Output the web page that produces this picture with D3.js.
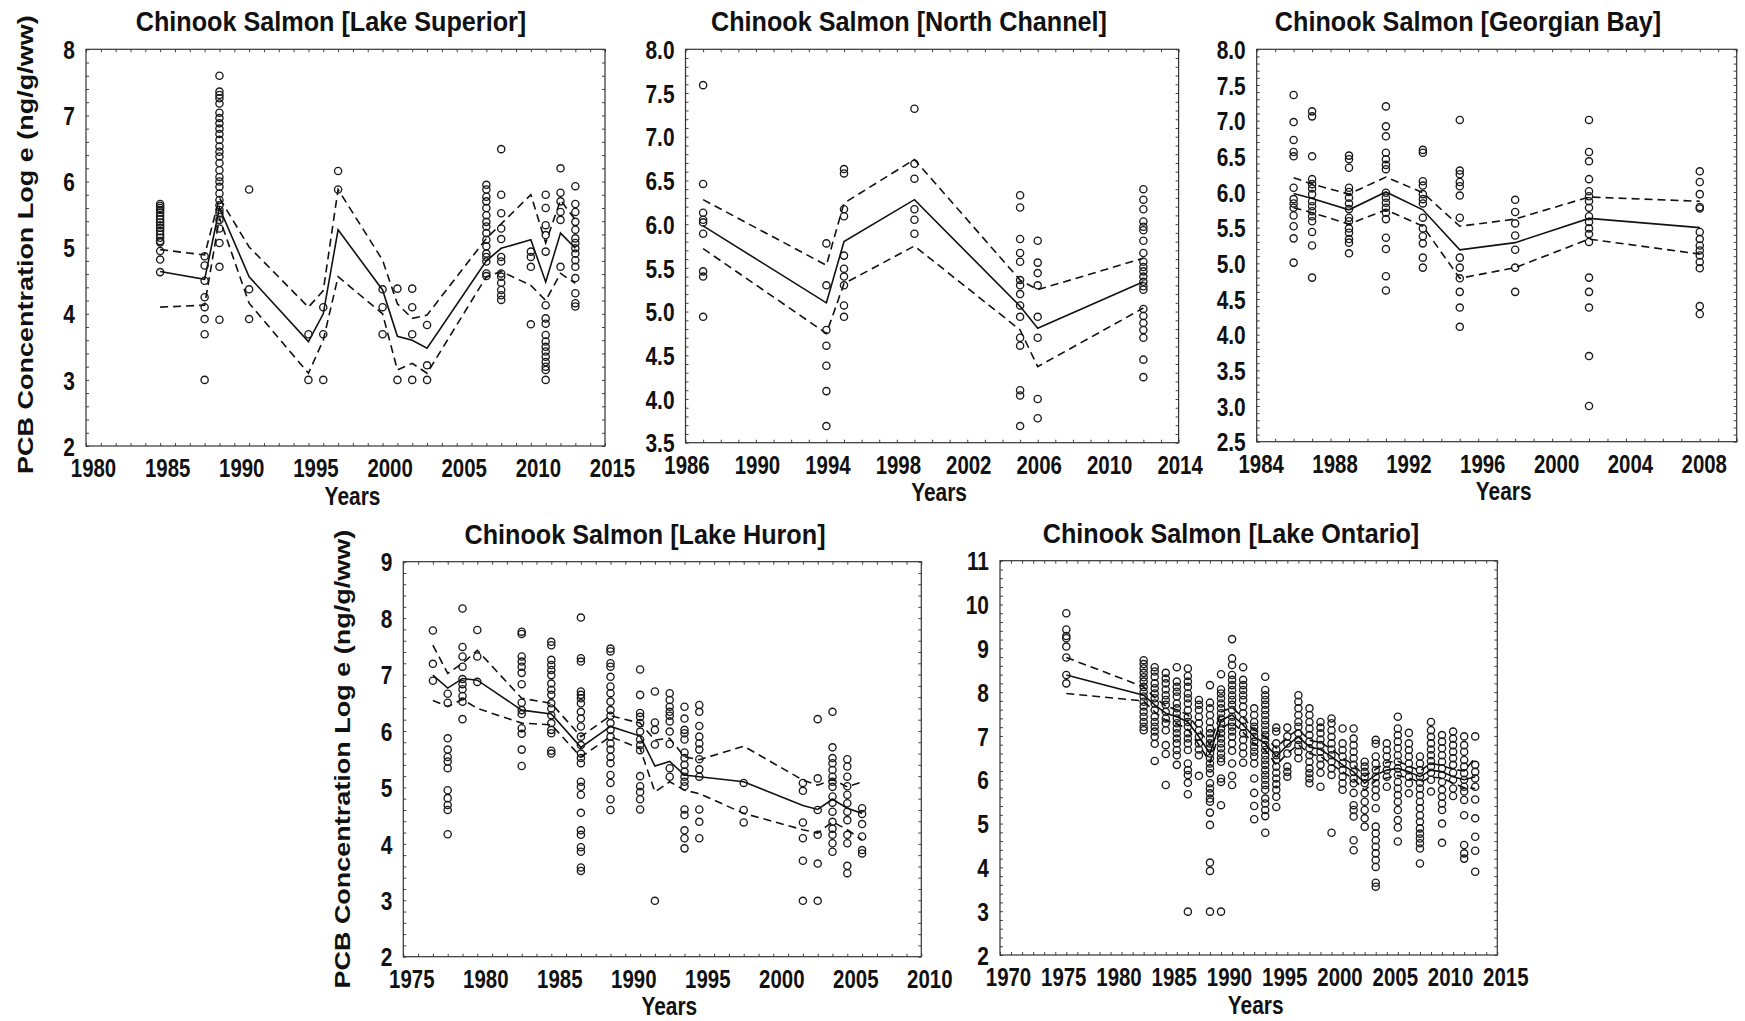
<!DOCTYPE html>
<html>
<head>
<meta charset="utf-8">
<script src="https://cdn.jsdelivr.net/npm/d3@7"></script>
<style>
  body { margin: 0; background: #fff; }
  svg { display: block; }
</style>
</head>
<body>
<div id="chart"></div>
<script>
// ---- Lake Superior ----
const superiorYears = [1985, 1988, 1989, 1991, 1995, 1996, 1997, 2000, 2001, 2002, 2003, 2007, 2008, 2010, 2011, 2012, 2013];
const superiorPCB = [
    [5.66, 5.63, 5.6, 5.57, 5.53, 5.48, 5.43, 5.38, 5.34, 5.3, 5.25, 5.2, 5.15, 5.1, 5.08, 4.95, 4.82, 4.63],
    [4.87, 4.73, 4.5, 4.25, 4.1, 3.92, 3.69, 3.0],
    [7.6, 7.36, 7.31, 7.26, 7.18, 7.04, 6.96, 6.88, 6.8, 6.72, 6.63, 6.53, 6.45, 6.38, 6.28, 6.17, 6.07, 6.0, 5.92, 5.82, 5.72, 5.64, 5.57, 5.52, 5.42, 5.29, 5.07, 4.71, 3.91],
    [5.88, 4.37, 3.92],
    [3.69, 3.0],
    [4.1, 3.69, 3.0],
    [6.16, 5.88],
    [4.37, 4.1, 3.69],
    [4.38, 3.0],
    [4.38, 4.1, 3.69, 3.0],
    [3.83, 3.22, 3.0],
    [5.95, 5.88, 5.77, 5.7, 5.6, 5.49, 5.39, 5.32, 5.22, 5.12, 5.02, 4.91, 4.86, 4.79, 4.61, 4.57],
    [6.49, 5.8, 5.52, 5.29, 5.13, 4.86, 4.79, 4.61, 4.56, 4.47, 4.36, 4.28, 4.21],
    [4.94, 4.86, 4.71, 3.84],
    [5.8, 5.6, 5.34, 5.19, 4.94, 4.13, 3.93, 3.85, 3.68, 3.58, 3.5, 3.43, 3.35, 3.27, 3.2, 3.15, 3.0],
    [6.2, 5.83, 5.7, 5.54, 5.42, 4.71],
    [5.93, 5.66, 5.54, 5.39, 5.27, 5.14, 5.07, 4.99, 4.91, 4.81, 4.71, 4.54, 4.31, 4.16, 4.11]
];
const superiorMean  = [4.64, 4.52, 5.6, 4.56, 3.58, 4.0, 5.27, 4.36, 3.66, 3.6, 3.48, 4.8, 4.99, 5.12, 4.48, 5.22, 4.99];
const superiorUpper = [4.97, 4.89, 5.75, 5.01, 4.1, 4.35, 5.88, 4.81, 4.15, 3.93, 3.98, 5.14, 5.36, 5.8, 5.07, 5.72, 5.42];
const superiorLower = [4.1, 4.13, 5.45, 4.16, 3.1, 3.6, 4.56, 4.0, 3.15, 3.25, 3.1, 4.56, 4.64, 4.43, 4.2, 4.61, 4.46];
const superiorXTicks = [1980, 1985, 1990, 1995, 2000, 2005, 2010, 2015];
const superiorYTicks = [2, 3, 4, 5, 6, 7, 8];

// ---- North Channel ----
const northYears = [1987, 1994, 1995, 1999, 2005, 2006, 2012];
const northPCB = [
    [7.59, 6.46, 6.13, 6.05, 6.02, 5.89, 5.46, 5.40, 4.94],
    [5.78, 5.30, 4.79, 4.61, 4.38, 4.09, 3.69],
    [6.63, 6.58, 6.17, 6.09, 5.64, 5.49, 5.40, 5.30, 5.07, 4.94],
    [7.32, 6.69, 6.52, 6.17, 6.05, 5.89],
    [6.33, 6.19, 5.83, 5.67, 5.57, 5.36, 5.30, 5.2, 5.07, 4.94, 4.70, 4.61, 4.1, 4.04, 3.69],
    [5.81, 5.56, 5.44, 5.30, 4.94, 4.70, 4.0, 3.78],
    [6.40, 6.28, 6.17, 6.03, 5.97, 5.93, 5.81, 5.67, 5.57, 5.51, 5.46, 5.40, 5.34, 5.29, 5.25, 5.03, 4.95, 4.87, 4.79, 4.70, 4.45, 4.25]
];
const northMean  = [5.98, 5.10, 5.80, 6.28, 5.06, 4.81, 5.34];
const northUpper = [6.28, 5.53, 6.24, 6.74, 5.36, 5.25, 5.61];
const northLower = [5.72, 4.75, 5.32, 5.75, 4.79, 4.37, 5.04];
const northXTicks = [1986, 1990, 1994, 1998, 2002, 2006, 2010, 2014];
const northYTicks = [3.5, 4.0, 4.5, 5.0, 5.5, 6.0, 6.5, 7.0, 7.5, 8.0];

// ---- Georgian Bay ----
const georgianYears = [1986, 1987, 1989, 1991, 1993, 1995, 1998, 2002, 2008];
const georgianPCB = [
    [7.36, 6.98, 6.73, 6.56, 6.50, 6.06, 5.90, 5.84, 5.78, 5.67, 5.52, 5.35, 5.01],
    [7.13, 7.06, 6.50, 6.18, 6.11, 6.05, 5.97, 5.87, 5.80, 5.73, 5.66, 5.59, 5.44, 5.25, 4.80],
    [6.51, 6.46, 6.34, 6.06, 6.0, 5.92, 5.84, 5.76, 5.64, 5.59, 5.49, 5.43, 5.34, 5.29, 5.14],
    [7.20, 6.92, 6.78, 6.55, 6.46, 6.38, 6.32, 5.99, 5.92, 5.85, 5.78, 5.71, 5.62, 5.36, 5.20, 4.82, 4.62],
    [6.59, 6.55, 6.15, 6.09, 5.97, 5.90, 5.84, 5.64, 5.49, 5.38, 5.28, 5.08, 4.94],
    [7.01, 6.30, 6.25, 6.14, 6.08, 5.95, 5.64, 5.08, 4.94, 4.79, 4.60, 4.38, 4.11],
    [5.89, 5.72, 5.56, 5.39, 5.19, 4.94, 4.60],
    [7.01, 6.56, 6.43, 6.18, 6.01, 5.94, 5.87, 5.78, 5.66, 5.58, 5.49, 5.41, 5.30, 4.80, 4.60, 4.38, 3.70, 3.0],
    [6.29, 6.14, 5.97, 5.79, 5.77, 5.44, 5.34, 5.25, 5.18, 5.11, 5.02, 4.93, 4.40, 4.29]
];
const georgianMean  = [5.98, 5.91, 5.75, 6.0, 5.75, 5.19, 5.29, 5.63, 5.50];
const georgianUpper = [6.2, 6.11, 5.97, 6.21, 5.99, 5.52, 5.62, 5.93, 5.87];
const georgianLower = [5.78, 5.71, 5.55, 5.75, 5.52, 4.79, 4.94, 5.34, 5.13];
const georgianXTicks = [1984, 1988, 1992, 1996, 2000, 2004, 2008];
const georgianYTicks = [2.5, 3.0, 3.5, 4.0, 4.5, 5.0, 5.5, 6.0, 6.5, 7.0, 7.5, 8.0];

// ---- Lake Huron ----
const huronYears = [1977, 1978, 1979, 1980, 1983, 1985, 1987, 1989, 1991, 1992, 1993, 1994, 1995, 1998, 2002, 2003, 2004, 2005, 2006];
const huronPCB = [
    [7.78, 7.19, 6.89],
    [6.66, 6.50, 5.87, 5.67, 5.54, 5.46, 5.34, 4.95, 4.81, 4.69, 4.60, 4.17],
    [8.17, 7.49, 7.32, 7.14, 6.92, 6.83, 6.74, 6.62, 6.52, 6.21],
    [7.79, 7.32, 6.87],
    [7.76, 7.72, 7.32, 7.23, 7.14, 7.03, 6.83, 6.50, 6.37, 6.30, 6.05, 5.95, 5.67, 5.38],
    [7.58, 7.52, 7.26, 7.17, 7.08, 6.99, 6.84, 6.73, 6.64, 6.49, 6.40, 6.28, 6.14, 6.02, 5.96, 5.65, 5.60],
    [8.01, 7.29, 7.23, 6.70, 6.64, 6.58, 6.49, 6.34, 6.22, 6.08, 5.90, 5.75, 5.60, 5.52, 5.43, 5.10, 5.01, 4.87, 4.55, 4.24, 4.16, 3.94, 3.86, 3.58, 3.52],
    [7.46, 7.41, 7.20, 7.14, 6.96, 6.79, 6.67, 6.52, 6.37, 6.27, 6.14, 6.02, 5.90, 5.78, 5.67, 5.54, 5.43, 5.22, 5.08, 4.79, 4.60],
    [7.09, 6.64, 6.32, 6.25, 6.14, 5.99, 5.85, 5.75, 5.66, 5.20, 5.02, 4.92, 4.79, 4.61],
    [6.70, 6.15, 6.02, 5.76, 2.99],
    [6.67, 6.55, 6.43, 6.34, 6.27, 6.17, 5.99, 5.77, 5.34, 5.19],
    [6.43, 6.22, 6.02, 5.96, 5.85, 5.62, 5.52, 5.40, 5.28, 5.19, 5.10, 5.02, 4.61, 4.51, 4.24, 4.10, 3.92],
    [6.46, 6.34, 6.09, 5.90, 5.78, 5.67, 5.50, 5.32, 5.19, 4.61, 4.39, 4.10],
    [5.08, 4.60, 4.38],
    [5.08, 4.94, 4.38, 4.10, 3.70, 2.99],
    [6.21, 5.16, 4.60, 4.16, 3.65, 2.99],
    [6.34, 5.71, 5.52, 5.43, 5.31, 5.19, 5.10, 5.01, 4.84, 4.73, 4.57, 4.39, 4.27, 4.16, 4.01, 3.86],
    [5.50, 5.37, 5.19, 5.02, 4.87, 4.72, 4.57, 4.42, 4.16, 4.01, 3.61, 3.48],
    [4.63, 4.53, 4.35, 4.13, 3.89, 3.83]
];
const huronMean  = [6.99, 6.76, 6.93, 6.90, 6.37, 6.30, 5.71, 6.08, 5.91, 5.38, 5.46, 5.22, 5.19, 5.10, 4.68, 4.61, 4.79, 4.63, 4.54];
const huronUpper = [7.52, 7.02, 7.20, 7.43, 6.58, 6.49, 5.90, 6.27, 6.14, 5.84, 5.87, 5.54, 5.49, 5.73, 5.13, 5.04, 5.14, 5.01, 5.10];
const huronLower = [6.54, 6.43, 6.56, 6.40, 6.14, 6.11, 5.54, 5.90, 5.69, 4.92, 5.10, 4.95, 4.89, 4.54, 4.25, 4.19, 4.39, 4.25, 4.07];
const huronXTicks = [1975, 1980, 1985, 1990, 1995, 2000, 2005, 2010];
const huronYTicks = [2, 3, 4, 5, 6, 7, 8, 9];

// ---- Lake Ontario ----
const ontarioYears = [1976, 1983, 1984, 1985, 1986, 1987, 1988, 1989, 1990, 1991, 1992, 1993, 1994, 1995, 1996, 1997, 1998,
    1999, 2000, 2001, 2002, 2003, 2004, 2005, 2006, 2007, 2008, 2009, 2010, 2011, 2012, 2013];
const ontarioPCB = [
    [9.80, 9.43, 9.28, 9.23, 9.04, 8.79, 8.39, 8.20],
    [8.73, 8.64, 8.54, 8.44, 8.34, 8.24, 8.12, 8.01, 7.90, 7.78, 7.67, 7.55, 7.44, 7.32, 7.21, 7.13],
    [8.57, 8.47, 8.35, 8.20, 8.09, 7.97, 7.86, 7.74, 7.59, 7.44, 7.32, 7.21, 7.10, 6.98, 6.82, 6.43],
    [8.44, 8.31, 8.20, 8.06, 7.93, 7.82, 7.71, 7.55, 7.40, 7.29, 7.13, 6.79, 6.59, 5.88],
    [8.57, 8.24, 8.12, 8.01, 7.90, 7.74, 7.63, 7.52, 7.40, 7.29, 7.17, 7.06, 6.94, 6.83, 6.68, 6.56, 6.34],
    [8.54, 8.37, 8.24, 8.12, 7.97, 7.86, 7.74, 7.59, 7.44, 7.32, 7.21, 7.06, 6.94, 6.83, 6.68, 6.37, 6.22, 6.11, 5.93, 5.67, 2.99],
    [7.82, 7.71, 7.59, 7.44, 7.29, 7.13, 6.98, 6.83, 6.69, 6.56, 6.09],
    [8.16, 7.76, 7.63, 7.48, 7.32, 7.17, 7.06, 6.94, 6.83, 6.72, 6.60, 6.49, 6.37, 6.26, 6.15, 5.92, 5.80, 5.69, 5.57, 5.50, 5.25, 4.97, 4.11, 3.92, 2.99],
    [8.41, 8.06, 7.97, 7.86, 7.74, 7.63, 7.52, 7.40, 7.29, 7.17, 7.06, 6.94, 6.83, 6.72, 6.60, 6.49, 6.41, 6.03, 5.95, 5.42, 2.99],
    [9.21, 8.77, 8.62, 8.39, 8.28, 8.16, 8.05, 7.93, 7.82, 7.71, 7.59, 7.44, 7.32, 7.21, 7.10, 6.98, 6.83, 6.66, 6.37, 6.09, 5.88],
    [8.57, 8.28, 8.16, 8.05, 7.93, 7.82, 7.67, 7.52, 7.36, 7.21, 7.06, 6.91, 6.75, 6.60, 6.39],
    [7.63, 7.48, 7.32, 7.21, 7.10, 6.98, 6.87, 6.75, 6.64, 6.53, 6.37, 6.03, 5.70, 5.40, 5.10],
    [8.35, 8.05, 7.93, 7.82, 7.71, 7.59, 7.48, 7.36, 7.25, 7.13, 7.02, 6.91, 6.79, 6.68, 6.56, 6.45, 6.34, 6.22, 6.11, 6.0, 5.88, 5.77, 5.57, 5.46, 5.31, 5.17, 4.79],
    [7.19, 7.10, 6.83, 6.69, 6.56, 6.45, 6.30, 6.16, 6.03, 5.90, 5.77, 5.61, 5.38],
    [7.19, 6.99, 6.83, 6.60, 6.30, 6.18, 6.07],
    [7.93, 7.78, 7.63, 7.48, 7.32, 7.21, 7.06, 6.91, 6.79, 6.64, 6.49],
    [7.63, 7.48, 7.32, 7.17, 7.02, 6.87, 6.72, 6.56, 6.41, 6.26, 6.15, 6.03, 5.92],
    [7.32, 7.19, 7.06, 6.92, 6.79, 6.64, 6.49, 6.34, 6.16, 5.84],
    [7.40, 7.29, 7.13, 6.98, 6.83, 6.69, 6.56, 6.41, 6.26, 6.11, 4.79],
    [7.17, 6.83, 6.68, 6.53, 6.37, 6.22, 6.07, 5.92, 5.77],
    [7.17, 6.94, 6.79, 6.64, 6.49, 6.34, 6.18, 6.03, 5.92, 5.70, 5.42, 5.31, 5.16, 4.62, 4.39],
    [6.41, 6.30, 6.18, 6.07, 5.92, 5.69, 5.50, 5.31, 5.12, 4.93],
    [6.91, 6.82, 6.53, 6.37, 6.22, 6.07, 5.92, 5.77, 5.61, 5.35, 4.93, 4.78, 4.62, 4.47, 4.32, 4.17, 4.01, 3.65, 3.56],
    [6.83, 6.68, 6.53, 6.37, 6.22, 6.07, 5.84],
    [7.44, 7.17, 7.02, 6.87, 6.72, 6.56, 6.41, 6.26, 6.11, 5.95, 5.80, 5.65, 5.50, 5.31, 5.08, 4.91, 4.59],
    [7.07, 6.83, 6.68, 6.53, 6.37, 6.22, 6.07, 5.92, 5.69],
    [6.53, 6.37, 6.22, 6.07, 5.93, 5.80, 5.65, 5.50, 5.35, 5.19, 5.04, 4.89, 4.77, 4.66, 4.55, 4.43, 4.09],
    [7.32, 7.13, 6.98, 6.83, 6.69, 6.56, 6.43, 6.30, 6.16, 6.0, 5.73],
    [7.02, 6.87, 6.72, 6.56, 6.41, 6.26, 6.11, 5.95, 5.77, 5.61, 5.46, 5.31, 5.00, 4.56],
    [7.10, 6.94, 6.79, 6.64, 6.49, 6.34, 6.16, 6.0, 5.80, 5.63],
    [6.99, 6.79, 6.64, 6.45, 6.30, 6.15, 6.0, 5.84, 5.73, 5.54, 5.19, 4.51, 4.32, 4.20],
    [6.99, 6.34, 6.18, 6.03, 5.84, 5.55, 5.12, 4.70, 4.38, 3.90]
];
const ontarioMean  = [8.39, 7.93, 7.71, 7.52, 7.44, 7.32, 6.98, 6.60, 7.36, 7.48, 7.25, 6.98, 6.83, 6.53, 6.79, 6.98, 6.75,
    6.69, 6.53, 6.34, 6.18, 5.92, 6.11, 6.22, 6.26, 6.18, 6.07, 6.22, 6.18, 6.07, 6.0, 6.07];
const ontarioUpper = [8.79, 8.12, 7.88, 7.68, 7.6, 7.48, 7.15, 6.8, 7.55, 7.65, 7.42, 7.14, 6.98, 6.72, 6.98, 7.15, 6.9,
    6.85, 6.7, 6.5, 6.34, 6.08, 6.24, 6.4, 6.42, 6.32, 6.2, 6.38, 6.32, 6.24, 6.2, 6.5];
const ontarioLower = [7.97, 7.8, 7.55, 7.36, 7.28, 7.15, 6.8, 6.4, 7.17, 7.32, 7.08, 6.82, 6.68, 6.34, 6.6, 6.8, 6.6,
    6.53, 6.36, 6.18, 6.02, 5.76, 5.98, 6.04, 6.1, 6.04, 5.94, 6.06, 6.04, 5.92, 5.82, 5.8];
const ontarioXTicks = [1970, 1975, 1980, 1985, 1990, 1995, 2000, 2005, 2010, 2015];
const ontarioYTicks = [2, 3, 4, 5, 6, 7, 8, 9, 10, 11];

const yTitle = "PCB Concentration Log e (ng/g/ww)";

// ---- layout ----
const W = 1745, H = 1021;
const FONT = "'Liberation Sans', Arial, Helvetica, sans-serif";
const INK = "#111";

const svg = d3.select("#chart").append("svg")
    .attr("width", W)
    .attr("height", H);
svg.append("rect").attr("width", W).attr("height", H).attr("fill", "#fff");

const panels = [
    {name: "Lake Superior", years: superiorYears, pcb: superiorPCB, mean: superiorMean, upper: superiorUpper, lower: superiorLower,
        xTicks: superiorXTicks, yTicks: superiorYTicks, fmt: d3.format("d"),
        left: 86, right: 605, top: 49.3, bottom: 446, xMinor: 1, yMinor: 0.2, labelShift: 7, titleX: 331, yLabelX: 32.5},
    {name: "North Channel", years: northYears, pcb: northPCB, mean: northMean, upper: northUpper, lower: northLower,
        xTicks: northXTicks, yTicks: northYTicks, fmt: d3.format(".1f"),
        left: 685.5, right: 1178.6, top: 49.3, bottom: 442.7, xMinor: 1, yMinor: 0.1, labelShift: 1, titleX: 909},
    {name: "Georgian Bay", years: georgianYears, pcb: georgianPCB, mean: georgianMean, upper: georgianUpper, lower: georgianLower,
        xTicks: georgianXTicks, yTicks: georgianYTicks, fmt: d3.format(".1f"), xMax: 2010,
        left: 1256.7, right: 1736.7, top: 49.3, bottom: 441.7, xMinor: 1, yMinor: 0.1, labelShift: 4, titleX: 1468},
    {name: "Lake Huron", years: huronYears, pcb: huronPCB, mean: huronMean, upper: huronUpper, lower: huronLower,
        xTicks: huronXTicks, yTicks: huronYTicks, fmt: d3.format("d"),
        left: 403.3, right: 921.3, top: 561.7, bottom: 956.7, xMinor: 1, yMinor: 0.2, labelShift: 8, titleX: 645, yLabelX: 350},
    {name: "Lake Ontario", years: ontarioYears, pcb: ontarioPCB, mean: ontarioMean, upper: ontarioUpper, lower: ontarioLower,
        xTicks: ontarioXTicks, yTicks: ontarioYTicks, fmt: d3.format("d"),
        left: 1000, right: 1497.3, top: 560.7, bottom: 955, xMinor: 1, yMinor: 0.2, labelShift: 8, titleX: 1231}
];

panels.forEach(drawPanel);

function styleTicks(sel) {
    sel.select(".domain").remove();
    sel.selectAll("line").attr("stroke", "#444").attr("stroke-width", 1);
}

function drawPanel(p) {
    let xMin = p.xTicks[0];
    let xMax = p.xMax || p.xTicks[p.xTicks.length - 1];
    let yMin = p.yTicks[0], yMax = p.yTicks[p.yTicks.length - 1];

    let x = d3.scaleLinear().domain([xMin, xMax]).range([p.left, p.right]);
    let y = d3.scaleLinear().domain([yMin, yMax]).range([p.bottom, p.top]);

    let g = svg.append("g").attr("class", "panel");

    // minor ticks, pointing inward on all four sides
    let xm = d3.range(0, Math.round((xMax - xMin) / p.xMinor) + 1).map(i => xMin + i * p.xMinor);
    let ym = d3.range(0, Math.round((yMax - yMin) / p.yMinor) + 1).map(i => yMin + i * p.yMinor);

    g.append("g").attr("transform", `translate(0,${p.bottom})`)
        .call(d3.axisBottom(x).tickValues(xm).tickSize(-3).tickFormat("")).call(styleTicks);
    g.append("g").attr("transform", `translate(0,${p.top})`)
        .call(d3.axisTop(x).tickValues(xm).tickSize(-3).tickFormat("")).call(styleTicks);
    g.append("g").attr("transform", `translate(${p.left},0)`)
        .call(d3.axisLeft(y).tickValues(ym).tickSize(-3).tickFormat("")).call(styleTicks);
    g.append("g").attr("transform", `translate(${p.right},0)`)
        .call(d3.axisRight(y).tickValues(ym).tickSize(-3).tickFormat("")).call(styleTicks);

    // frame
    g.append("rect")
        .attr("x", p.left).attr("y", p.top)
        .attr("width", p.right - p.left).attr("height", p.bottom - p.top)
        .attr("fill", "none").attr("stroke", "#333").attr("stroke-width", 1.2);

    // x tick labels
    let xa = g.append("g").attr("transform", `translate(${p.labelShift},${p.bottom})`)
        .call(d3.axisBottom(x).tickValues(p.xTicks).tickFormat(d3.format("d")).tickSize(0));
    xa.select(".domain").remove();
    xa.attr("font-family", FONT).attr("font-size", 25.5).attr("font-weight", "bold");
    xa.selectAll("text").attr("y", 31).attr("dy", 0).attr("fill", INK)
        .attr("transform", "scale(0.8,1)");

    // y tick labels
    let ya = g.append("g").attr("transform", `translate(${p.left},0)`)
        .call(d3.axisLeft(y).tickValues(p.yTicks).tickFormat(p.fmt).tickSize(0));
    ya.select(".domain").remove();
    ya.attr("font-family", FONT).attr("font-size", 25.5).attr("font-weight", "bold");
    ya.selectAll("text").attr("x", -11 / 0.82).attr("dy", "0.36em").attr("fill", INK)
        .attr("transform", "scale(0.82,1)");

    // title
    g.append("text")
        .attr("transform", `translate(${p.titleX},${p.top - 18}) scale(0.9,1)`)
        .attr("text-anchor", "middle")
        .attr("font-family", FONT).attr("font-size", 28).attr("font-weight", "bold").attr("fill", INK)
        .text(`Chinook Salmon [${p.name}]`);

    // x axis title
    g.append("text")
        .attr("transform", `translate(${(p.left + p.right) / 2 + 7},${p.bottom + 58.5}) scale(0.82,1)`)
        .attr("text-anchor", "middle")
        .attr("font-family", FONT).attr("font-size", 25.5).attr("font-weight", "bold").attr("fill", INK)
        .text("Years");

    // y axis title (only first panel of each row)
    if (p.yLabelX) {
        g.append("text")
            .attr("transform", `translate(${p.yLabelX},${(p.top + p.bottom) / 2 + (p.top > 300 ? 0 : -3)}) scale(0.85,1) rotate(-90)`)
            .attr("text-anchor", "middle")
            .attr("font-family", FONT).attr("font-size", 27).attr("font-weight", "bold").attr("fill", INK)
            .text(yTitle);
    }

    // observations as open circles
    let pts = [];
    p.years.forEach((yr, i) => p.pcb[i].forEach(v => pts.push([yr, v])));

    g.append("g").selectAll("circle")
        .data(pts)
        .enter()
        .append("circle")
        .attr("cx", d => x(d[0]))
        .attr("cy", d => y(d[1]))
        .attr("r", 3.6)
        .attr("fill", "none")
        .attr("stroke", "#1a1a1a")
        .attr("stroke-width", 1.35);

    // mean and confidence band lines
    let line = d3.line().x(d => x(d[0])).y(d => y(d[1]));
    let series = [
        {vals: p.mean, dash: null},
        {vals: p.upper, dash: "8,5"},
        {vals: p.lower, dash: "8,5"}
    ];
    series.forEach(s => {
        g.append("path")
            .datum(p.years.map((yr, i) => [yr, s.vals[i]]))
            .attr("d", line)
            .attr("fill", "none")
            .attr("stroke", "#111")
            .attr("stroke-width", 1.6)
            .attr("stroke-dasharray", s.dash);
    });
}
</script>
</body>
</html>
